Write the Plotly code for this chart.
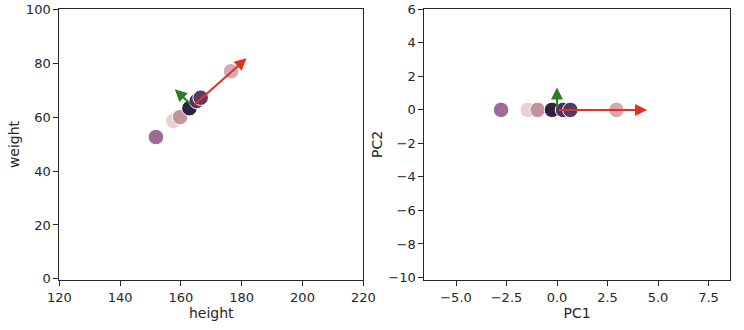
import plotly.graph_objects as go

# Data
height = [151.8, 157.5, 159.7, 162.8, 165.2, 166.5, 176.5]
weight = [52.6, 58.6, 60.0, 63.3, 66.0, 67.2, 77.0]
pc1 = [-2.77, -1.45, -0.96, -0.25, 0.30, 0.66, 2.94]
pc2 = [0, 0, 0, 0, 0, 0, 0]
colors = ["#9b6c94", "#e9d1cd", "#c4939f", "#2f1f41", "#4a3162", "#553a6a", "#d4a9b2"]

mean_xy = [163.9, 64.1]
comp_left_red = [17.7, 17.7]
comp_left_green = [-5.9, 6.2]
comp_right_red = [4.46, 0.0]
comp_right_green = [0.0, 1.33]

left_xticks = [120, 140, 160, 180, 200, 220]
left_yticks = [0, 20, 40, 60, 80, 100]
right_xticks = [-5.0, -2.5, 0.0, 2.5, 5.0, 7.5]
right_yticks = [6, 4, 2, 0, -2, -4, -6, -8, -10]

def fmt(v, dec):
    s = f"{abs(v):.{dec}f}"
    return ("\u2212" + s) if v < 0 else s

RED = "#e3301f"
GREEN = "#2e7d1f"
TXT = "#262626"
FONT = "DejaVu Sans"

fig = go.Figure()
fig.add_trace(go.Scatter(x=height, y=weight, mode="markers",
                         marker=dict(size=15.5, color=colors, line=dict(color="white", width=1)),
                         xaxis="x", yaxis="y", showlegend=False))
fig.add_trace(go.Scatter(x=pc1, y=pc2, mode="markers",
                         marker=dict(size=15.5, color=colors, line=dict(color="white", width=1)),
                         xaxis="x2", yaxis="y2", showlegend=False))

annots = []
def arrow(x0, y0, v, color, xr, yr):
    annots.append(dict(x=x0 + v[0], y=y0 + v[1], ax=x0, ay=y0, xref=xr, yref=yr,
                       axref=xr, ayref=yr, showarrow=True, arrowhead=2, arrowsize=1.2,
                       arrowwidth=2, arrowcolor=color, text=""))

arrow(mean_xy[0], mean_xy[1], comp_left_red, RED, "x", "y")
arrow(mean_xy[0], mean_xy[1], comp_left_green, GREEN, "x", "y")
arrow(0, 0, comp_right_red, RED, "x2", "y2")
arrow(0, 0, comp_right_green, GREEN, "x2", "y2")

axis_common = dict(showline=True, linecolor=TXT, linewidth=1, mirror=True, ticks="outside",
                   ticklen=5, tickwidth=1, tickcolor=TXT, showgrid=False, zeroline=False,
                   automargin=False,
                   tickfont=dict(family=FONT, size=13, color=TXT))
title_font = dict(family=FONT, size=14, color=TXT)

fig.update_layout(
    width=744, height=330, margin=dict(l=0, r=0, t=0, b=0),
    plot_bgcolor="white", paper_bgcolor="white",
    annotations=annots,
    xaxis=dict(domain=[59.3/744, 363.3/744], range=[120, 220], tickvals=left_xticks,
               ticktext=[str(v) for v in left_xticks], anchor="y",
               title=dict(text="height", font=title_font, standoff=4), **axis_common),
    yaxis=dict(domain=[50/330, 321/330], range=[-0.4, 100.1], tickvals=left_yticks,
               ticktext=[str(v) for v in left_yticks], anchor="x",
               title=dict(text="weight", font=title_font, standoff=2), **axis_common),
    xaxis2=dict(domain=[424.3/744, 729.7/744], range=[-6.57, 8.55], tickvals=right_xticks,
                ticktext=[fmt(v, 1) for v in right_xticks], anchor="y2",
                title=dict(text="PC1", font=title_font, standoff=4), **axis_common),
    yaxis2=dict(domain=[50/330, 321/330], range=[-10.15, 6.02], tickvals=right_yticks,
                ticktext=[fmt(v, 0) for v in right_yticks], anchor="x2",
                title=dict(text="PC2", font=title_font, standoff=2), **axis_common),
)

fig.write_html("out.html")
